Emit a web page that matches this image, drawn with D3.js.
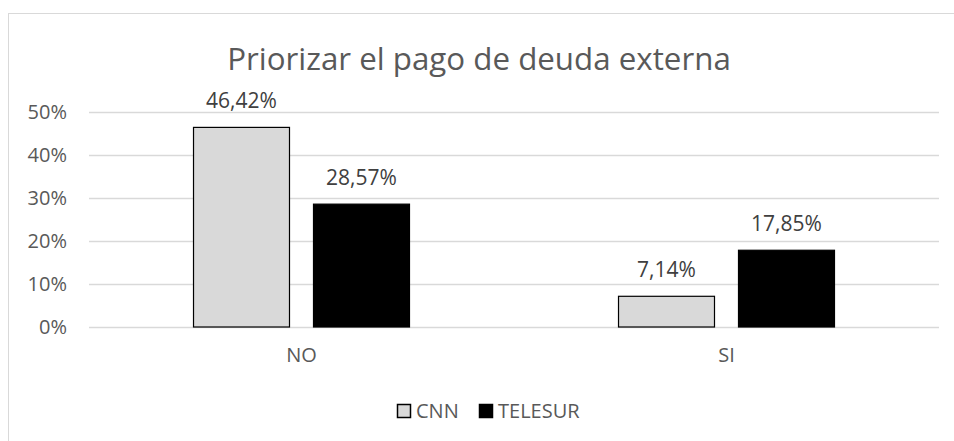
<!DOCTYPE html>
<html>
<head>
<meta charset="utf-8">
<script src="https://cdn.jsdelivr.net/npm/d3@7"></script>
<style>
  html, body { margin: 0; padding: 0; background: #fff; }
  svg { display: block; font-family: "Open Sans", sans-serif; }
</style>
</head>
<body>
<div id="chart"></div>
<script>
// datos del gráfico
const title = 'Priorizar el pago de deuda externa'
const categories = ['NO', 'SI']
const series = ['CNN', 'TELESUR']
const cnnValues = [0.4642, 0.0714]
const telesurValues = [0.2857, 0.1785]
const valueLabels = [['46,42%', '28,57%'], ['7,14%', '17,85%']]
const yTicks = [0, 0.1, 0.2, 0.3, 0.4, 0.5]
const yTickLabels = ['0%', '10%', '20%', '30%', '40%', '50%']
const colors = ['#d9d9d9', '#000000']

const WIDTH = 954
const HEIGHT = 441
const plot = { left: 89, right: 939, top: 112, bottom: 327 }

const svg = d3.select('#chart')
  .append('svg')
  .attr('width', WIDTH)
  .attr('height', HEIGHT)

// borde del área del gráfico
svg.append('rect')
  .attr('x', 8.5).attr('y', 13.5)
  .attr('width', 980).attr('height', 460)
  .attr('fill', '#fff')
  .attr('stroke', '#d9d9d9')
  .attr('stroke-width', 1)

svg.append('text')
  .attr('x', 479).attr('y', 70)
  .attr('text-anchor', 'middle')
  .attr('fill', '#595959')
  .attr('font-size', 31.3)
  .text(title)

const y = d3.scaleLinear().domain([0, 0.5]).range([plot.bottom, plot.top])
const x0 = d3.scaleBand().domain(categories).range([plot.left, plot.right])
const x1 = d3.scaleBand().domain(series).range([0, x0.bandwidth()])
  .paddingInner(0.2).paddingOuter(0.871)

// líneas de cuadrícula y etiquetas del eje Y
const yAxis = svg.append('g')
  .attr('transform', `translate(${plot.left},0)`)
  .call(d3.axisLeft(y).tickValues(yTicks)
    .tickSize(-(plot.right - plot.left))
    .tickPadding(22)
    .tickFormat((d, i) => yTickLabels[i]))
yAxis.select('.domain').remove()
yAxis.selectAll('line').attr('stroke', '#d9d9d9').attr('stroke-width', 1.3)
yAxis.selectAll('text')
  .attr('fill', '#595959')
  .attr('font-size', 20)
  .attr('font-family', '"Open Sans", sans-serif')

// eje X
const xAxis = svg.append('g')
  .attr('transform', `translate(0,${plot.bottom})`)
  .call(d3.axisBottom(x0).tickSize(0).tickPadding(21))
xAxis.select('.domain').remove()
xAxis.selectAll('text')
  .attr('fill', '#595959')
  .attr('font-size', 20)
  .attr('font-family', '"Open Sans", sans-serif')

const rows = categories.map((c, i) => ({
  category: c,
  values: [
    { s: series[0], v: cnnValues[i], label: valueLabels[i][0], color: colors[0] },
    { s: series[1], v: telesurValues[i], label: valueLabels[i][1], color: colors[1] }
  ]
}))

const groups = svg.selectAll('g.cat')
  .data(rows)
  .enter()
  .append('g')
  .attr('class', 'cat')
  .attr('transform', d => `translate(${x0(d.category)},0)`)

groups.selectAll('rect')
  .data(d => d.values)
  .enter()
  .append('rect')
  .attr('x', d => x1(d.s))
  .attr('y', d => y(d.v))
  .attr('width', x1.bandwidth())
  .attr('height', d => y(0) - y(d.v))
  .attr('fill', d => d.color)
  .attr('stroke', '#000')
  .attr('stroke-width', 1.2)

groups.selectAll('text.lbl')
  .data(d => d.values)
  .enter()
  .append('text')
  .attr('class', 'lbl')
  .attr('x', d => x1(d.s) + x1.bandwidth() / 2)
  .attr('y', d => y(d.v) - 19)
  .attr('text-anchor', 'middle')
  .attr('fill', '#404040')
  .attr('font-size', 21)
  .text(d => d.label)

// leyenda
const legendX = [397, 479]
const legend = svg.selectAll('g.legend')
  .data(series)
  .enter()
  .append('g')
  .attr('class', 'legend')
  .attr('transform', (d, i) => `translate(${legendX[i]},404)`)

legend.append('rect')
  .attr('x', 0.5).attr('y', 0.5)
  .attr('width', 13).attr('height', 13)
  .attr('fill', (d, i) => colors[i])
  .attr('stroke', '#000')
  .attr('stroke-width', 1.5)

legend.append('text')
  .attr('x', 19).attr('y', 14)
  .attr('fill', '#595959')
  .attr('font-size', 20)
  .text(d => d)
</script>
</body>
</html>
